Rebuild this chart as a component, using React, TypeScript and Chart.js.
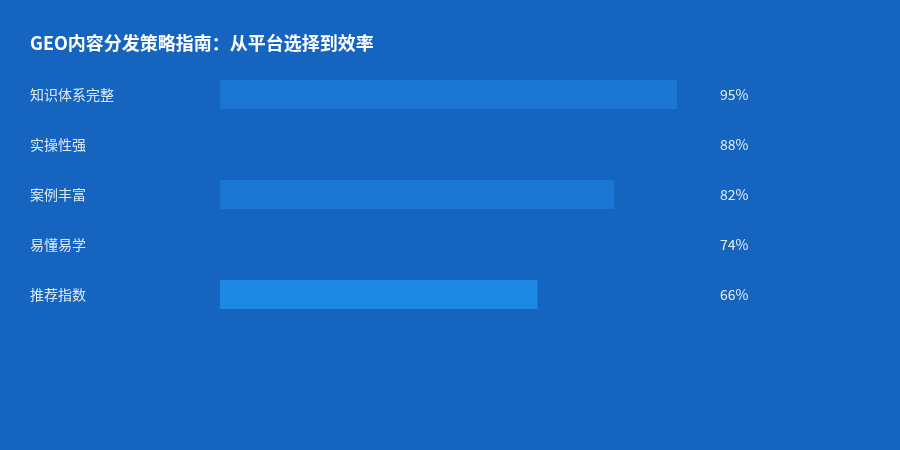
import React, { useEffect, useRef } from "react";
import { Chart, registerables } from "chart.js";

Chart.register(...registerables);

const TITLE = "GEO内容分发策略指南：从平台选择到效率";
const categories = ["知识体系完整", "实操性强", "案例丰富", "易懂易学", "推荐指数"];
const values = [95, 88, 82, 74, 66];
const barColors = ["#1976D2", "#1565C0", "#1976D2", "#1565C0", "#1E88E5"];
const BG = "#1565C0";
const FONT = "'Noto Sans CJK SC', 'Noto Sans', sans-serif";

const valueLabels = {
  id: "valueLabels",
  afterDatasetsDraw(chart: any) {
    const { ctx } = chart;
    const xScale = chart.scales.x;
    const meta = chart.getDatasetMeta(0);
    const x = xScale.getPixelForValue(100) + 19;
    ctx.save();
    ctx.font = `14px ${FONT}`;
    ctx.fillStyle = "rgba(255,255,255,0.88)";
    ctx.textAlign = "left";
    ctx.textBaseline = "middle";
    meta.data.forEach((el: any, i: number) => {
      ctx.fillText(values[i] + "%", x, el.y);
    });
    ctx.restore();
  },
};

export default function App() {
  const ref = useRef<HTMLCanvasElement>(null);
  useEffect(() => {
    if (!ref.current) return;
    const chart = new Chart(ref.current, {
      type: "bar",
      data: {
        labels: categories,
        datasets: [
          {
            data: values,
            backgroundColor: barColors,
            borderWidth: 0,
            barPercentage: 0.58,
            categoryPercentage: 1,
          },
        ],
      },
      options: {
        indexAxis: "y",
        animation: false,
        responsive: false,
        layout: { padding: { top: 20.5, left: 30, right: 199, bottom: 130.5 } },
        plugins: {
          legend: { display: false },
          tooltip: { enabled: false },
          title: {
            display: true,
            text: TITLE,
            align: "start",
            color: "#FFFFFF",
            font: { family: FONT, size: 18, weight: "bold", lineHeight: 1.2 },
            padding: { top: 12, bottom: 15.4 },
          },
        },
        scales: {
          x: { display: false, min: 0, max: 100 },
          y: {
            grid: { display: false },
            border: { display: false },
            ticks: {
              crossAlign: "far",
              color: "rgba(255,255,255,0.85)",
              font: { family: FONT, size: 14 },
            },
            afterFit(scale: any) {
              scale.width = 190;
            },
          },
        },
      } as any,
      plugins: [valueLabels],
    });
    return () => chart.destroy();
  }, []);
  return (
    <div style={{ position: "fixed", left: 0, top: 0, width: 900, height: 450, background: BG }}>
      <canvas ref={ref} width={900} height={450} style={{ display: "block", width: 900, height: 450 }} />
    </div>
  );
}
